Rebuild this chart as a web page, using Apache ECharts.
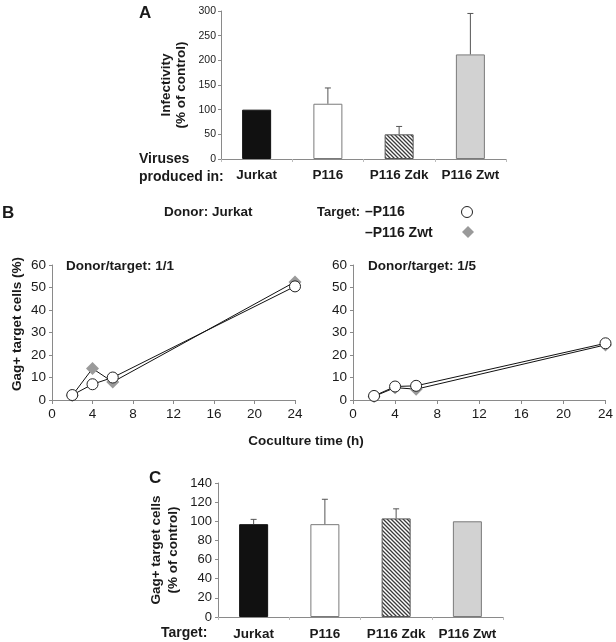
<!DOCTYPE html>
<html><head><meta charset="utf-8">
<script src="https://cdn.jsdelivr.net/npm/echarts@6/dist/echarts.min.js"></script>
<style>html,body{margin:0;padding:0;background:#fff}#c{width:616px;height:642px}</style>
</head><body><div id="c"></div>
<script>
// ---- data ----
const virusCats = ['Jurkat', 'P116', 'P116 Zdk', 'P116 Zwt'];
const infectivity = [100, 112, 50, 212];
const infectivityErr = [0, 32, 16, 83];
const hours = [2, 4, 6, 24];
const p116_1to1 = [2.2, 7, 10, 50.5];
const zwt_1to1 = [2, 14, 8, 52.5];
const p116_1to5 = [1.8, 6, 6.3, 25.2];
const zwt_1to5 = [1.6, 5.5, 4.8, 24.5];
const targetCats = ['Jurkat', 'P116', 'P116 Zdk', 'P116 Zwt'];
const gagControl = [97, 97, 103, 100];
const gagControlErr = [5, 26, 10, 0];

const FONT = '"Liberation Sans", Arial, Helvetica, sans-serif';
const AX = '#8a8a8a';
const TXT = '#1a1a1a';

// hatch pattern
const pc = document.createElement('canvas');
pc.width = 4; pc.height = 4;
const g = pc.getContext('2d');
g.fillStyle = '#ffffff'; g.fillRect(0, 0, 4, 4);
g.strokeStyle = '#3a3a3a'; g.lineWidth = 1.3;
g.beginPath();
g.moveTo(0, 0); g.lineTo(4, 4);
g.moveTo(-1, 3); g.lineTo(1, 5);
g.moveTo(3, -1); g.lineTo(5, 1);
g.stroke();
const hatch = { image: pc, repeat: 'repeat' };

const barStyles = [
  { color: '#111111', borderColor: '#111111', borderWidth: 1 },
  { color: '#ffffff', borderColor: '#7a7a7a', borderWidth: 1 },
  { color: hatch, borderColor: '#555555', borderWidth: 1 },
  { color: '#d2d2d2', borderColor: '#7a7a7a', borderWidth: 1 }
];

function barData(vals) {
  return vals.map((v, i) => ({ value: v, itemStyle: barStyles[i] }));
}
function errData(vals, errs) {
  return vals.map((v, i) => [i, v, v + errs[i]]).filter((d, i) => errs[i] > 0);
}
function errRender(params, api) {
  const base = api.coord([api.value(0), api.value(1)]);
  const top = api.coord([api.value(0), api.value(2)]);
  const w = 3;
  return {
    type: 'group',
    children: [
      { type: 'line', shape: { x1: top[0], y1: base[1], x2: top[0], y2: top[1] }, style: { stroke: '#555', lineWidth: 1 } },
      { type: 'line', shape: { x1: top[0] - w, y1: top[1], x2: top[0] + w, y2: top[1] }, style: { stroke: '#555', lineWidth: 1 } }
    ]
  };
}

const catAxisCommon = {
  type: 'category',
  axisLine: { lineStyle: { color: AX, width: 1 } },
  axisTick: { show: true, length: 3, lineStyle: { color: '#bbb' } },
  axisLabel: { color: TXT, fontFamily: FONT, fontWeight: 'bold', fontSize: 13.5, interval: 0 },
  splitLine: { show: false }
};
function valY(min, max, interval, fs, margin) {
  return {
    type: 'value', min: min, max: max, interval: interval,
    axisLine: { show: true, lineStyle: { color: AX, width: 1 } },
    axisTick: { show: true, length: 3, lineStyle: { color: AX } },
    axisLabel: { color: TXT, fontFamily: FONT, fontSize: fs, margin: margin },
    splitLine: { show: false }
  };
}
function hourX(gridIndex) {
  return {
    type: 'value', gridIndex: gridIndex, min: 0, max: 24, interval: 4,
    axisLine: { onZero: false, lineStyle: { color: AX, width: 1 } },
    axisTick: { show: true, length: 4, lineStyle: { color: AX } },
    axisLabel: { color: TXT, fontFamily: FONT, fontSize: 13.5, margin: 7 },
    splitLine: { show: false }
  };
}
function lineSeries(xi, yi, data, kind) {
  const isP = kind === 'p116';
  return {
    type: 'line', xAxisIndex: xi, yAxisIndex: yi,
    data: hours.map((h, i) => [h, data[i]]),
    symbol: isP ? 'circle' : 'diamond',
    symbolSize: isP ? 11 : 13,
    lineStyle: { color: '#111', width: 1 },
    itemStyle: isP ? { color: '#ffffff', borderColor: '#222', borderWidth: 1 } : { color: '#9a9a9a', borderColor: '#9a9a9a', borderWidth: 0 },
    z: isP ? 4 : 3,
    animation: false
  };
}

const yA = valY(0, 300, 50, 10.5, 5);
yA.gridIndex = 0;
yA.name = 'Infectivity\n(% of control)';
yA.nameLocation = 'middle';
yA.nameRotate = 90;
yA.nameGap = 32;
yA.nameTextStyle = { color: TXT, fontFamily: FONT, fontWeight: 'bold', fontSize: 13.5, lineHeight: 15 };

const yBL = valY(0, 60, 10, 13.5, 6); yBL.gridIndex = 1;
const yBR = valY(0, 60, 10, 13.5, 6); yBR.gridIndex = 2;

const yC = valY(0, 140, 20, 13, 6);
yC.gridIndex = 3;
yC.name = 'Gag+ target cells\n(% of control)';
yC.nameLocation = 'middle';
yC.nameRotate = 90;
yC.nameGap = 36;
yC.nameTextStyle = { color: TXT, fontFamily: FONT, fontWeight: 'bold', fontSize: 13.5, lineHeight: 17 };

const xA = Object.assign({}, catAxisCommon, { gridIndex: 0, data: virusCats });
xA.axisLabel = Object.assign({}, catAxisCommon.axisLabel, { margin: 9 });
const xC = Object.assign({}, catAxisCommon, { gridIndex: 3, data: targetCats });
xC.axisLabel = Object.assign({}, catAxisCommon.axisLabel, { margin: 10 });

const boldText = (x, y, text, size, extra) => Object.assign({
  type: 'text', x: x, y: y,
  style: { text: text, fill: TXT, font: 'bold ' + size + 'px ' + FONT, textVerticalAlign: 'middle' }
}, extra || {});

const option = {
  animation: false,
  backgroundColor: '#ffffff',
  grid: [
    { left: 221, top: 11, width: 285, height: 148 },
    { left: 52, top: 265, width: 243, height: 135 },
    { left: 353, top: 265, width: 253, height: 135 },
    { left: 218, top: 483, width: 285, height: 134 }
  ],
  xAxis: [xA, hourX(1), hourX(2), xC],
  yAxis: [yA, yBL, yBR, yC],
  series: [
    { type: 'bar', xAxisIndex: 0, yAxisIndex: 0, data: barData(infectivity), barWidth: 29 },
    { type: 'custom', xAxisIndex: 0, yAxisIndex: 0, renderItem: errRender, data: errData(infectivity, infectivityErr), encode: { x: 0, y: [1, 2] }, z: 5 },
    lineSeries(1, 1, zwt_1to1, 'zwt'),
    lineSeries(1, 1, p116_1to1, 'p116'),
    lineSeries(2, 2, zwt_1to5, 'zwt'),
    lineSeries(2, 2, p116_1to5, 'p116'),
    { type: 'bar', xAxisIndex: 3, yAxisIndex: 3, data: barData(gagControl), barWidth: 29 },
    { type: 'custom', xAxisIndex: 3, yAxisIndex: 3, renderItem: errRender, data: errData(gagControl, gagControlErr), encode: { x: 0, y: [1, 2] }, z: 5 }
  ],
  graphic: [
    boldText(139, 13, 'A', 17),
    boldText(139, 159, 'Viruses', 14),
    boldText(139, 177, 'produced in:', 14),
    boldText(2, 213, 'B', 17),
    boldText(164, 212, 'Donor: Jurkat', 13.5),
    boldText(317, 212, 'Target:', 13),
    boldText(365, 212, '\u2013P116', 14),
    boldText(365, 233, '\u2013P116 Zwt', 14),
    { type: 'circle', shape: { cx: 467, cy: 212, r: 5.5 }, style: { fill: '#fff', stroke: '#222', lineWidth: 1 } },
    { type: 'polygon', shape: { points: [[468, 226], [474, 232], [468, 238], [462, 232]] }, style: { fill: '#9a9a9a' } },
    boldText(66, 266, 'Donor/target: 1/1', 13.5),
    boldText(368, 266, 'Donor/target: 1/5', 13.5),
    boldText(17, 324, 'Gag+ target cells (%)', 13.5, { rotation: Math.PI / 2, style: { text: 'Gag+ target cells (%)', fill: TXT, font: 'bold 13.5px ' + FONT, textAlign: 'center', textVerticalAlign: 'middle' } }),
    boldText(306, 441, 'Coculture time (h)', 13.5, { style: { text: 'Coculture time (h)', fill: TXT, font: 'bold 13.5px ' + FONT, textAlign: 'center', textVerticalAlign: 'middle' } }),
    boldText(149, 478, 'C', 17),
    boldText(161, 633, 'Target:', 14)
  ]
};

const chart = echarts.init(document.getElementById('c'), null, { renderer: 'canvas' });
chart.setOption(option);
</script>
</body></html>
